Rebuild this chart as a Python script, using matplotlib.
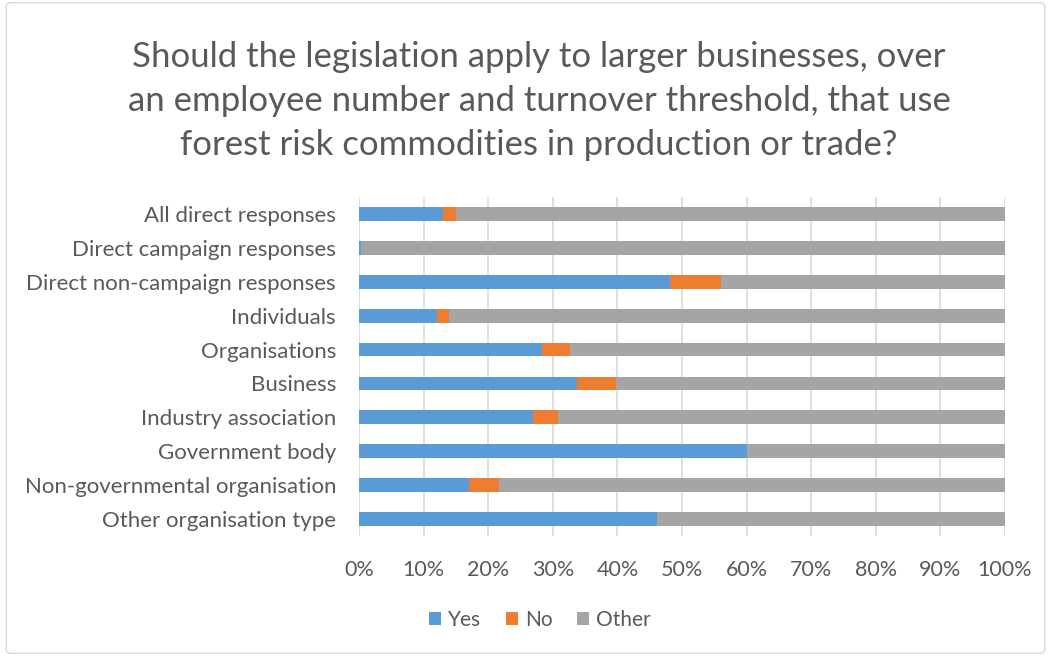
import numpy as np
import matplotlib.pyplot as plt
from matplotlib.patches import FancyBboxPatch
from matplotlib.ticker import PercentFormatter

plt.rcParams['font.family'] = ['Lato', 'DejaVu Sans']

# Data (shares of responses, %)
categories = ['All direct responses', 'Direct campaign responses',
              'Direct non-campaign responses', 'Individuals', 'Organisations',
              'Business', 'Industry association', 'Government body',
              'Non-governmental organisation', 'Other organisation type']
yes = [13.0, 0.3, 48.1, 12.1, 28.3, 33.7, 26.9, 60.0, 17.0, 46.1]
no = [2.0, 0.0, 8.0, 1.9, 4.4, 6.1, 3.9, 0.0, 4.7, 0.0]
other = [100 - a - b for a, b in zip(yes, no)]

text_col = '#595959'
colors = ['#5B9BD5', '#ED7D31', '#A5A5A5']

fig = plt.figure(figsize=(10.49, 6.56), dpi=100)
ax = fig.add_axes([359/1049, 1 - 536/656, (1005-359)/1049, (536-197)/656])

y = np.arange(len(categories))
ax.barh(y, yes, height=0.41, color=colors[0], label='Yes', zorder=3)
ax.barh(y, no, left=yes, height=0.41, color=colors[1], label='No', zorder=3)
ax.barh(y, other, left=np.add(yes, no), height=0.41, color=colors[2],
        label='Other', zorder=3)

ax.set_yticks(y)
ax.set_yticklabels(categories)
ax.set_ylim(len(categories) - 0.5, -0.5)
ax.set_xlim(0, 100)
ax.set_xticks(np.arange(0, 101, 10))
ax.xaxis.set_major_formatter(PercentFormatter(decimals=0))
ax.grid(axis='x', color='#D9D9D9', linewidth=1.2, zorder=0)
for s in ax.spines.values():
    s.set_visible(False)
ax.tick_params(length=0, colors=text_col)
ax.tick_params(axis='y', labelsize=16, pad=16.5)
ax.tick_params(axis='x', labelsize=15.5, pad=17)

fig.text(539/1049, 1 - 41/656,
         'Should the legislation apply to larger businesses, over\n'
         'an employee number and turnover threshold, that use\n'
         'forest risk commodities in production or trade?',
         ha='center', va='top', fontsize=25, color=text_col, linespacing=1.47)

leg = fig.legend(loc='center', bbox_to_anchor=(540/1049, 1 - 620/656), ncol=3,
                 frameon=False, fontsize=15, handlelength=0.55,
                 handleheight=0.55, handletextpad=0.35, columnspacing=1.2)
for t in leg.get_texts():
    t.set_color(text_col)

fig.patches.append(FancyBboxPatch((0.006, 0.004), 0.99, 0.992,
                                  boxstyle='round,pad=0,rounding_size=0.006',
                                  transform=fig.transFigure, fill=False,
                                  edgecolor='#D9D9D9', linewidth=1))

fig.savefig('out.png', dpi=100)
